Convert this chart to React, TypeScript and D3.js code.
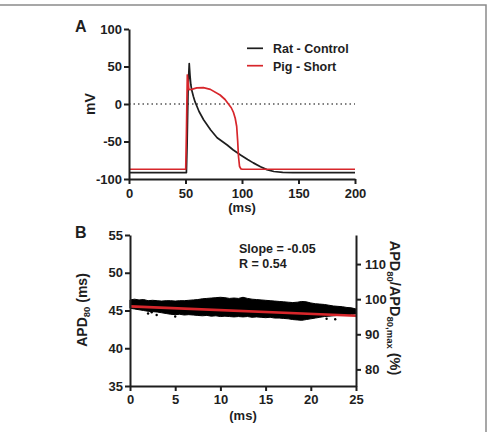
import { useEffect, useRef } from "react"
import * as d3 from "d3"

// Panel A: action potential traces (time in ms, membrane potential in mV)
const ratTime = [0, 50.8, 51.4, 52.3, 53.3, 54.0, 54.7, 55.5, 57.0, 58.4, 62.0, 66.0, 72.3, 78.0, 86.9, 92.0, 98.7, 105.0, 110.0, 116.4, 122.0, 128.2, 136.0, 145.0, 200]
const ratMv = [-91.6, -91.6, -55, 20, 54, 38, 26, 18.7, 10, 3.1, -10, -21, -34.7, -45, -54.7, -61, -68, -74, -78.5, -83.6, -87.5, -90, -91.2, -91.6, -91.6]

const pigTime = [0, 50.2, 50.8, 51.6, 52.3, 53.0, 55.4, 60.0, 65.8, 72.0, 80.6, 85.0, 88.0, 90.5, 92.4, 94.0, 95.3, 96.2, 96.9, 97.8, 99.0, 100.4, 200]
const pigMv = [-87, -87, -40, 38.7, 30, 19, 19.5, 21.5, 21.8, 19.5, 12, 6, 0, -5, -11, -19, -30, -50, -70, -83, -86.5, -87, -87]

// Panel B: APD80 scatter envelope over time (ms)
const bandTime = d3.range(0, 25.01, 0.5)
const bandUpper = [46.4, 46.5, 46.4, 46.45, 46.3, 46.35, 46.3, 46.25, 46.3, 46.3, 46.25, 46.3, 46.3, 46.35, 46.4, 46.45, 46.55, 46.6, 46.65, 46.7, 46.75, 46.7, 46.6, 46.65, 46.6, 46.75, 46.6, 46.5, 46.45, 46.4, 46.35, 46.3, 46.25, 46.2, 46.15, 46.1, 46.05, 46.1, 46.2, 46.15, 46.0, 45.9, 45.85, 45.8, 45.7, 45.6, 45.55, 45.5, 45.4, 45.35, 45.2]
const bandLower = [45.3, 45.2, 45.1, 45.0, 44.9, 44.85, 44.8, 44.7, 44.6, 44.5, 44.45, 44.5, 44.4, 44.45, 44.4, 44.35, 44.3, 44.35, 44.25, 44.3, 44.2, 44.25, 44.2, 44.15, 44.2, 44.15, 44.2, 44.1, 44.15, 44.1, 44.05, 44.1, 44.0, 44.0, 43.95, 43.9, 43.8, 43.75, 43.7, 43.8, 43.9, 44.0, 44.1, 44.2, 44.25, 44.3, 44.35, 44.4, 44.45, 44.5, 44.55]
const outlierTime = [2.0, 2.4, 2.95, 5.0, 21.75, 22.7]
const outlierApd = [44.6, 44.76, 44.4, 44.2, 43.9, 43.85]

const slope = -0.05
const intercept = 45.55
const rValue = 0.54
const apdMax = 46.5

const red = "#d7262b"
const ink = "#1e1e1e"
const font = "'Liberation Sans', Arial, sans-serif"

export default function App() {
  const ref = useRef<SVGSVGElement>(null)

  // panel A scales
  const xA = d3.scaleLinear().domain([0, 200]).range([129, 355])
  const yA = d3.scaleLinear().domain([-100, 100]).range([179, 29])
  // panel B scales
  const xB = d3.scaleLinear().domain([0, 25]).range([130, 356])
  const yB = d3.scaleLinear().domain([35, 55]).range([386, 235])
  const yR = d3.scaleLinear().domain([(35 / apdMax) * 100, (55 / apdMax) * 100]).range([386, 235])

  const ratPath = d3.line<number>().x((t) => xA(t)).y((_, i) => yA(ratMv[i]))(ratTime) || ""
  const pigPath = d3.line<number>().x((t) => xA(t)).y((_, i) => yA(pigMv[i]))(pigTime) || ""
  const bandPath =
    d3
      .area<number>()
      .x((t) => xB(t))
      .y0((_, i) => yB(bandLower[i]))
      .y1((_, i) => yB(bandUpper[i]))(bandTime) || ""

  useEffect(() => {
    const svg = d3.select(ref.current)
    const plain = (d: d3.NumberValue) => String(d)
    const style = (g: d3.Selection<SVGGElement, unknown, null, undefined>) => {
      g.attr("font-family", font).attr("font-size", 13).attr("font-weight", "bold")
      g.selectAll(".domain").attr("stroke", ink).attr("stroke-width", 2)
      g.selectAll(".tick line").attr("stroke", ink).attr("stroke-width", 2)
      g.selectAll(".tick text").attr("fill", ink)
    }
    svg.select<SVGGElement>(".ax-a-x")
      .call(d3.axisBottom(xA).tickValues([0, 50, 100, 150, 200]).tickFormat(plain).tickSize(5).tickPadding(5).tickSizeOuter(0))
      .call(style)
    svg.select<SVGGElement>(".ax-a-y")
      .call(d3.axisLeft(yA).tickValues([-100, -50, 0, 50, 100]).tickFormat(plain).tickSize(5).tickPadding(2).tickSizeOuter(0))
      .call(style)
    svg.select<SVGGElement>(".ax-b-x")
      .call(d3.axisBottom(xB).tickValues([0, 5, 10, 15, 20, 25]).tickFormat(plain).tickSize(5).tickPadding(4).tickSizeOuter(0))
      .call(style)
    svg.select<SVGGElement>(".ax-b-y")
      .call(d3.axisLeft(yB).tickValues([35, 40, 45, 50, 55]).tickFormat(plain).tickSize(5).tickPadding(2).tickSizeOuter(0))
      .call(style)
    svg.select<SVGGElement>(".ax-b-r")
      .call(d3.axisRight(yR).tickValues([80, 90, 100, 110]).tickFormat(plain).tickSize(5).tickPadding(4).tickSizeOuter(0))
      .call(style)
  }, [])

  const label = { fontFamily: font, fontWeight: "bold" as const, fill: ink }

  return (
    <div>
      <style>{`body{margin:0}`}</style>
      <svg ref={ref} width={489} height={432} style={{ display: "block", background: "#fff" }}>
        <rect x={-2} y={5} width={488} height={440} fill="none" stroke="#8a8a8a" strokeWidth={1.5} />

        {/* Panel A */}
        <text x={75} y={32} fontSize={16} {...label}>A</text>
        <line
          x1={xA(0)} x2={xA(200)} y1={yA(0)} y2={yA(0)}
          stroke="#555" strokeWidth={1.4} strokeDasharray="1.5,3"
        />
        <path d={ratPath} fill="none" stroke={ink} strokeWidth={1.7} strokeLinejoin="round" />
        <path d={pigPath} fill="none" stroke={red} strokeWidth={1.7} strokeLinejoin="round" />
        <g className="ax-a-x" transform={`translate(0,${yA(-100)})`} />
        <g className="ax-a-y" transform={`translate(${xA(0)},0)`} />
        <text x={(xA(0) + xA(200)) / 2} y={212} textAnchor="middle" fontSize={13} {...label}>(ms)</text>
        <text transform={`translate(95,${yA(0)}) rotate(-90)`} textAnchor="middle" fontSize={14} {...label}>mV</text>

        <line x1={247} x2={263} y1={48.3} y2={48.3} stroke={ink} strokeWidth={1.7} />
        <text x={273} y={53} fontSize={12.5} {...label}>Rat - Control</text>
        <line x1={247} x2={263} y1={65.7} y2={65.7} stroke={red} strokeWidth={1.7} />
        <text x={273} y={70.5} fontSize={12.5} {...label}>Pig - Short</text>

        {/* Panel B */}
        <text x={75} y={238} fontSize={16} {...label}>B</text>
        <path d={bandPath} fill="#000" stroke="#000" strokeWidth={1} />
        {outlierTime.map((t, i) => (
          <circle key={i} cx={xB(t)} cy={yB(outlierApd[i])} r={1.2} fill="#000" />
        ))}
        <line
          x1={xB(0)} x2={xB(25)}
          y1={yB(intercept)} y2={yB(intercept + slope * 25)}
          stroke={red} strokeWidth={2.6}
        />
        <g className="ax-b-x" transform={`translate(0,${yB(35)})`} />
        <g className="ax-b-y" transform={`translate(${xB(0)},0)`} />
        <g className="ax-b-r" transform={`translate(${xB(25)},0)`} />
        <text x={(xB(0) + xB(25)) / 2} y={420} textAnchor="middle" fontSize={13} {...label}>(ms)</text>
        <text x={239} y={253} fontSize={12.5} {...label}>Slope = {slope.toFixed(2)}</text>
        <text x={239} y={268} fontSize={12.5} {...label}>R = {rValue.toFixed(2)}</text>

        <text transform={`translate(87,310) rotate(-90)`} textAnchor="middle" fontSize={14} {...label}>
          APD<tspan fontSize={9.5} dy={3}>80</tspan>
          <tspan dy={-3}> (ms)</tspan>
        </text>
        <text transform={`translate(390,308) rotate(90)`} textAnchor="middle" fontSize={14.5} {...label}>
          APD<tspan fontSize={9.5} dy={3}>80</tspan>
          <tspan dy={-3}>/APD</tspan>
          <tspan fontSize={9.5} dy={3}>80,max</tspan>
          <tspan dy={-3}> (%)</tspan>
        </text>
      </svg>
    </div>
  )
}
